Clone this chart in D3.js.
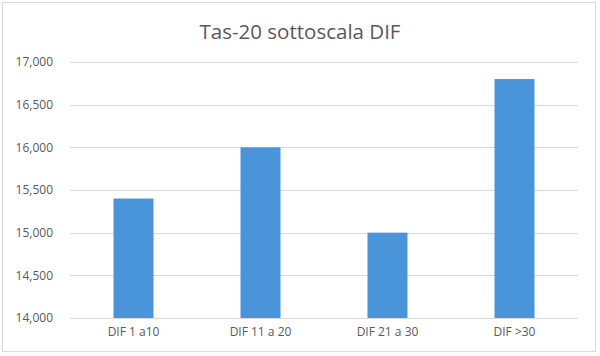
<!DOCTYPE html>
<html><head><meta charset="utf-8">
<script src="https://cdn.jsdelivr.net/npm/d3@7"></script>
<style>body{margin:0;background:#fff}svg{display:block}</style>
</head><body>
<script>
const categories = ["DIF 1 a10", "DIF 11 a 20", "DIF 21 a 30", "DIF >30"];
const values = [15400, 16000, 15000, 16800];
const yTicks = [14000, 14500, 15000, 15500, 16000, 16500, 17000];
const title = "Tas-20 sottoscala DIF";

const W = 600, H = 356;
const m = {left: 70, right: 22, top: 62, bottom: 38};
const svg = d3.select("body").append("svg").attr("width", W).attr("height", H);
svg.append("rect").attr("x", 2.5).attr("y", 2.5).attr("width", 593).attr("height", 349)
  .attr("fill", "#fff").attr("stroke", "#d9d9d9");

const font = "'Open Sans', 'Noto Sans', sans-serif";
svg.append("text").attr("x", 300).attr("y", 39).attr("text-anchor", "middle")
  .attr("font-family", font).attr("font-size", 20.5).attr("fill", "#595959").text(title);

const x = d3.scaleBand().domain(categories).range([m.left, W - m.right]).paddingInner(0.685).paddingOuter(0.3425);
const y = d3.scaleLinear().domain([14000, 17000]).range([H - m.bottom, m.top]);

const grid = svg.append("g");
grid.selectAll("line").data(yTicks).join("line")
  .attr("x1", m.left).attr("x2", W - m.right)
  .attr("y1", d => Math.round(y(d)) + 0.5).attr("y2", d => Math.round(y(d)) + 0.5)
  .attr("stroke", "#d9d9d9").attr("stroke-width", 1);

const yAxis = svg.append("g").attr("transform", `translate(${m.left},0)`)
  .call(d3.axisLeft(y).tickValues(yTicks).tickFormat(d3.format(",")).tickSize(0).tickPadding(17));
yAxis.select(".domain").remove();
yAxis.selectAll("text").attr("font-family", font).attr("font-size", 12).attr("fill", "#595959");

svg.append("g").selectAll("rect").data(values).join("rect")
  .attr("x", (d, i) => x(categories[i])).attr("width", x.bandwidth())
  .attr("y", d => y(d)).attr("height", d => y(14000) - y(d))
  .attr("fill", "#4a94da");

const xAxis = svg.append("g").attr("transform", `translate(0,${H - m.bottom})`)
  .call(d3.axisBottom(x).tickSize(0).tickPadding(9));
xAxis.select(".domain").remove();
xAxis.selectAll("text").attr("font-family", font).attr("font-size", 12).attr("fill", "#595959");
</script>
</body></html>
